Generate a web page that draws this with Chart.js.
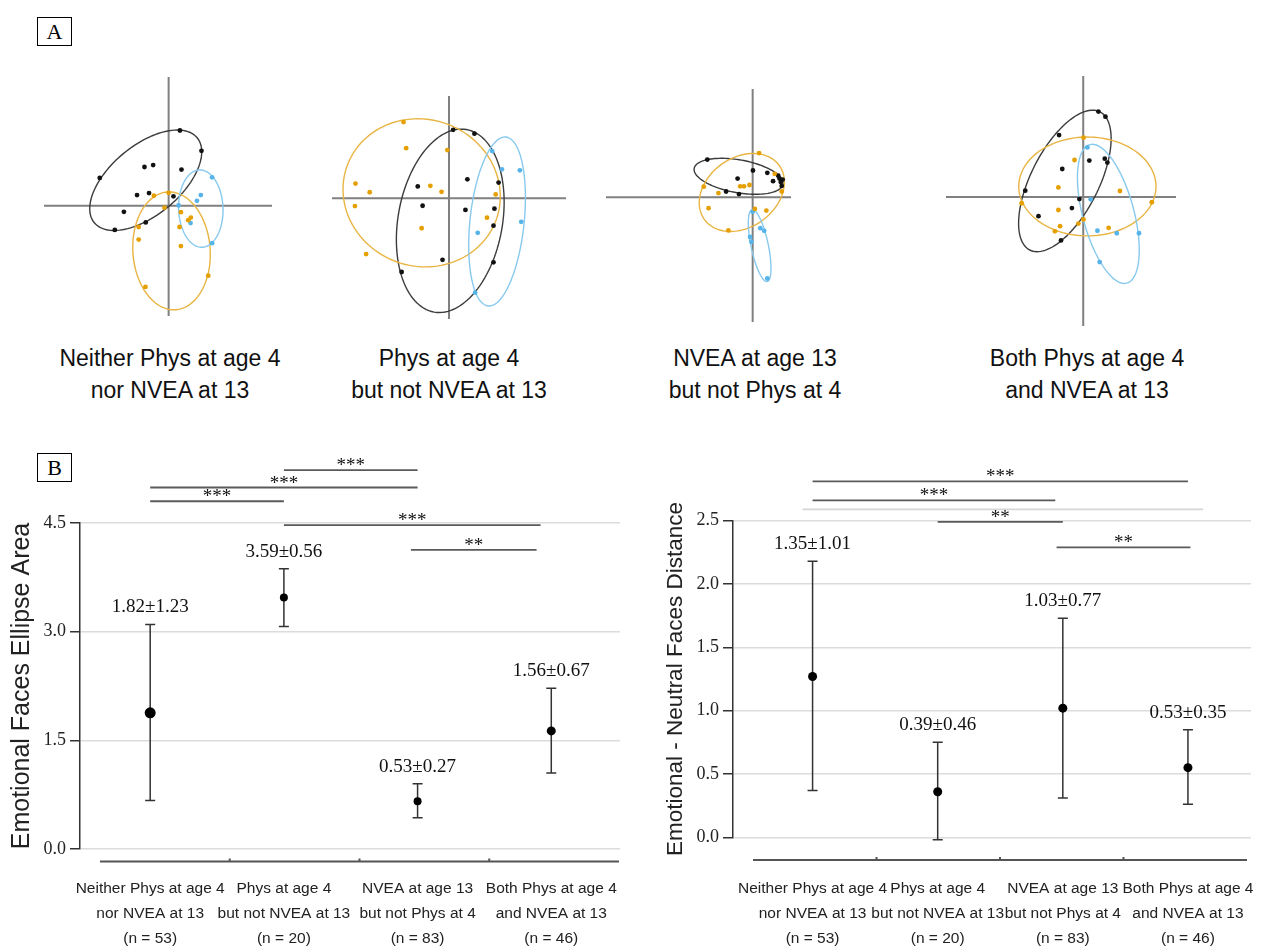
<!DOCTYPE html>
<html>
<head>
<meta charset="utf-8">
<script src="https://cdn.jsdelivr.net/npm/chart.js@4.4.1/dist/chart.umd.min.js"></script>
<style>
body{margin:0;background:#fff;width:1273px;height:951px;position:relative;overflow:hidden;font-family:"Liberation Sans",Arial,sans-serif}
.box{position:absolute;border:1px solid #000;font:22px "Liberation Serif",serif;text-align:center;line-height:27px;width:33px;height:27px;color:#000}
.lab{position:absolute;font-size:23px;line-height:32px;text-align:center;width:300px;color:#111}
canvas{position:absolute}
</style>
</head>
<body>
<div class="box" style="left:37px;top:17px">A</div>
<div class="box" style="left:37px;top:453px">B</div>
<script>
// panel A: scatter points (units = reference pixels, origin at the cross)
var p1Black = [[11.7,77.7],[34,56.7],[-71.3,28.7],[-25,40],[-16,42],[13.3,37.3],[-32.7,11],[-20.3,13],[5,9.7],[-46.3,-6.3],[-23.7,-17.3],[-55.7,-25]];
var p1Orange = [[0,13.3],[-15.3,10.3],[-4.3,-2],[12.7,-6.7],[23,-12.3],[20.3,-15],[-31,-22],[11.3,-22],[-31,-35],[12.7,-41.7],[41,-72.3],[-24,-84]];
var p1Blue = [[45,29.3],[33.3,11],[29.3,5],[10.3,0.3],[22.7,-18],[45,-38.7]];
var p1Ellipses = [[-23.7,26.3,69,36,39.5],[3,-46.7,61,40,94],[33.3,-3,40,23,92]];

var p2Black = [[4.3,71],[26.3,67],[19,19.7],[-32.3,12.3],[51.3,16.3],[-27.3,-7.7],[17,-12],[47,-10.7],[46,-28.3],[-6.7,-63.7],[46,-66.3],[-49,-76.3]];
var p2Orange = [[-47,79],[-44.3,52],[-1.7,50],[-96.7,15.3],[-82,6.3],[-19.3,13],[-7.7,6.7],[-97.3,-8],[48.3,4],[39.3,-20],[-28.3,-31],[-85.7,-57.7]];
var p2Blue = [[44.7,49],[54.7,30],[73.3,29],[74.7,-24.3],[29.7,-35.7],[27,-97.7]];
var p2Ellipses = [[1.3,-23.3,96,54,80],[-28.3,5.7,82,76,-20],[49.7,-24,88,28,84]];

var p3Black = [[-47.3,39],[0.3,27.7],[15.3,25.3],[-15.7,19.3],[26.7,22.3],[21.3,16.7],[28,19.3],[31.3,18.3],[29.3,15.7],[30.3,11.7],[-27.7,6],[-14.3,3.3]];
var p3Orange = [[6.7,45.7],[23,24.3],[-13,11.3],[-9,11.3],[-3.3,12.7],[-51,11],[-35.7,4.3],[30.3,6],[-46,-11.3],[2.3,-12],[14.3,-13.7],[-25.3,-34.3]];
var p3Blue = [[0,-15],[8,-32],[12,-34.7],[-2.7,-41],[-1.3,-46],[15.3,-84]];
var p3Ellipses = [[-14.7,21.7,47,17,-10],[-11.3,5,48,36,35],[7.3,-50,38,9,102]];

var p4Black = [[15.7,88.3],[23,83],[-25,64],[6.3,37.7],[22.3,39.7],[25,35.7],[-21.7,29],[-60,6.7],[-4,-2],[-11.7,-11.3],[-46.3,-19.7],[-23,-44.7]];
var p4Orange = [[0.3,61.3],[-9,38.3],[-25.7,10],[38,6.3],[-63.7,-6.3],[71,-5.3],[-25.7,-13.3],[0.3,-23],[-5,-27.3],[-24,-30],[-29.3,-35.3],[26.3,-31.7]];
var p4Blue = [[4.3,51.3],[7.7,-2.3],[14.7,-34.7],[34.7,-37.3],[57.7,-37.3],[17,-67]];
var p4Ellipses = [[-19,16.7,80,35,63],[4.3,11,71,51,0],[26,-17.3,74,26.5,105]];

var panelTitles = [['Neither Phys at age 4','nor NVEA at 13'],['Phys at age 4','but not NVEA at 13'],['NVEA at age 13','but not Phys at 4'],['Both Phys at age 4','and NVEA at 13']];

// panel B
var groupLabels = [['Neither Phys at age 4','nor NVEA at 13','(n = 53)'],['Phys at age 4','but not NVEA at 13','(n = 20)'],['NVEA at age 13','but not Phys at 4','(n = 83)'],['Both Phys at age 4','and NVEA at 13','(n = 46)']];
var areaMean = [1.88,3.47,0.66,1.63];
var areaLow = [0.67,3.07,0.43,1.05];
var areaHigh = [3.10,3.87,0.90,2.22];
var areaText = ['1.82\u00b11.23','3.59\u00b10.56','0.53\u00b10.27','1.56\u00b10.67'];
var areaSig = [[1,2,5.23,'***'],[0,2,4.99,'***'],[0,1,4.80,'***'],[1,2.92,4.47,'***'],[1.95,2.89,4.13,'**']];
var areaTicks = [0,1.5,3,4.5];

var distMean = [1.27,0.36,1.02,0.55];
var distLow = [0.37,-0.02,0.31,0.26];
var distHigh = [2.18,0.75,1.73,0.85];
var distText = ['1.35\u00b11.01','0.39\u00b10.46','1.03\u00b10.77','0.53\u00b10.35'];
var distSig = [[0,3,2.81,'***'],[0,1.94,2.66,'***'],[-0.08,3.12,2.59,''],[1,2,2.49,'**'],[1.95,3.02,2.29,'**']];
var distTicks = [0,0.5,1,1.5,2,2.5];

var ORANGE = '#E69F00', BLUE = '#56B4E9', BLACK = '#111111';
var ellColors = ['#3c3c3c','#E8B442','#88C9EE'];

function addCanvas(left, top, w, h) {
  var c = document.createElement('canvas');
  c.width = w; c.height = h;
  c.style.left = left + 'px'; c.style.top = top + 'px';
  c.style.width = w + 'px'; c.style.height = h + 'px';
  document.body.appendChild(c);
  return c;
}

function toXY(arr) { return arr.map(function(p){ return {x:p[0], y:p[1]}; }); }

function scatterPanel(box, xr, yr, black, orange, blue, ells, title, cx) {
  var cv = addCanvas(box[0], box[1], box[2], box[3]);
  var crossPlugin = {
    id: 'cross',
    beforeDatasetsDraw: function(chart) {
      var ctx = chart.ctx, a = chart.chartArea, x = chart.scales.x, y = chart.scales.y;
      ctx.save();
      ctx.strokeStyle = '#808080'; ctx.lineWidth = 2;
      var x0 = x.getPixelForValue(0), y0 = y.getPixelForValue(0);
      ctx.beginPath();
      ctx.moveTo(a.left, y0); ctx.lineTo(a.right, y0);
      ctx.moveTo(x0, a.top); ctx.lineTo(x0, a.bottom);
      ctx.stroke();
      ells.forEach(function(e, k) {
        var t0 = e[4] * Math.PI / 180;
        ctx.strokeStyle = ellColors[k]; ctx.lineWidth = 1.4;
        ctx.beginPath();
        for (var i = 0; i <= 120; i++) {
          var t = i / 120 * 2 * Math.PI;
          var u = e[2] * Math.cos(t), v = e[3] * Math.sin(t);
          var px = x.getPixelForValue(e[0] + u * Math.cos(t0) - v * Math.sin(t0));
          var py = y.getPixelForValue(e[1] + u * Math.sin(t0) + v * Math.cos(t0));
          if (i) ctx.lineTo(px, py); else ctx.moveTo(px, py);
        }
        ctx.closePath(); ctx.stroke();
      });
      ctx.restore();
    }
  };
  new Chart(cv, {
    type: 'scatter',
    data: {
      datasets: [
        {data: toXY(orange), backgroundColor: ORANGE, borderWidth: 0, pointRadius: 2.4, clip: false},
        {data: toXY(blue), backgroundColor: BLUE, borderWidth: 0, pointRadius: 2.4, clip: false},
        {data: toXY(black), backgroundColor: BLACK, borderWidth: 0, pointRadius: 2.4, clip: false}
      ]
    },
    options: {
      responsive: false, animation: false, events: [],
      layout: {padding: 0},
      plugins: {legend: {display: false}, tooltip: {enabled: false}},
      scales: {
        x: {type: 'linear', display: false, min: xr[0], max: xr[1]},
        y: {type: 'linear', display: false, min: yr[0], max: yr[1]}
      }
    },
    plugins: [crossPlugin]
  });
  var d = document.createElement('div');
  d.className = 'lab';
  d.style.left = (cx - 150) + 'px'; d.style.top = '342px';
  d.innerHTML = title.join('<br>');
  document.body.appendChild(d);
}

scatterPanel([40,73,236,247], [-129,107], [-114,133], p1Black, p1Orange, p1Blue, p1Ellipses, panelTitles[0], 170);
scatterPanel([328,92,242,231], [-121,121], [-125,106], p2Black, p2Orange, p2Blue, p2Ellipses, panelTitles[1], 449);
scatterPanel([602,85,193,241], [-153,40], [-129,112], p3Black, p3Orange, p3Blue, p3Ellipses, panelTitles[2], 755);
scatterPanel([942,72,238,258], [-142,96], [-133,125], p4Black, p4Orange, p4Blue, p4Ellipses, panelTitles[3], 1087);

function meanPanel(o) {
  var cv = addCanvas(o.left, 440, o.width, 511);
  var deco = {
    id: 'deco',
    beforeDatasetsDraw: function(chart) {
      var ctx = chart.ctx, x = chart.scales.x, y = chart.scales.y;
      ctx.save();
      ctx.strokeStyle = '#333'; ctx.lineWidth = 1.5;
      o.mean.forEach(function(m, i) {
        var px = x.getPixelForValue(i), y1 = y.getPixelForValue(o.low[i]), y2 = y.getPixelForValue(o.high[i]);
        ctx.beginPath();
        ctx.moveTo(px, y1); ctx.lineTo(px, y2);
        ctx.moveTo(px - 5, y1); ctx.lineTo(px + 5, y1);
        ctx.moveTo(px - 5, y2); ctx.lineTo(px + 5, y2);
        ctx.stroke();
      });
      ctx.restore();
    },
    afterDraw: function(chart) {
      var ctx = chart.ctx, a = chart.chartArea, x = chart.scales.x, y = chart.scales.y;
      ctx.save();
      // separate category axis line below the plot
      var ay = a.bottom + o.axisGap, l = a.left + 20, r = a.right - o.axisEnd;
      ctx.strokeStyle = '#555'; ctx.lineWidth = 2;
      ctx.beginPath(); ctx.moveTo(l, ay); ctx.lineTo(r, ay);
      for (var k = 1; k < 4; k++) { var tx = l + (r - l) * k / 4; ctx.moveTo(tx, ay); ctx.lineTo(tx, ay - 3); }
      ctx.stroke();
      // value labels
      ctx.fillStyle = '#111'; ctx.font = '19px "Liberation Serif", serif';
      ctx.textAlign = 'center'; ctx.textBaseline = 'middle';
      o.text.forEach(function(t, i) {
        ctx.fillText(t, x.getPixelForValue(i), y.getPixelForValue(o.high[i]) - 17);
      });
      // significance brackets
      ctx.font = '19px "Liberation Serif", serif'; ctx.textBaseline = 'alphabetic';
      o.sig.forEach(function(s) {
        var x1 = x.getPixelForValue(s[0]), x2 = x.getPixelForValue(s[1]), py = y.getPixelForValue(s[2]);
        ctx.strokeStyle = s[3] ? '#5a5a5a' : '#d6d6d6'; ctx.lineWidth = 1.8;
        ctx.beginPath(); ctx.moveTo(x1, py); ctx.lineTo(x2, py); ctx.stroke();
        if (s[3]) ctx.fillText(s[3], (x1 + x2) / 2, py + 1);
      });
      ctx.restore();
    }
  };
  new Chart(cv, {
    type: 'scatter',
    data: {
      datasets: [{
        data: o.mean.map(function(m, i){ return {x: i, y: m}; }),
        backgroundColor: '#000', borderWidth: 0, pointRadius: o.radius, clip: false
      }]
    },
    options: {
      responsive: false, animation: false, events: [],
      layout: {padding: {top: o.padTop, right: o.padRight, left: 0, bottom: 0}},
      plugins: {legend: {display: false}, tooltip: {enabled: false}},
      scales: {
        x: {
          type: 'linear', min: o.xr[0], max: o.xr[1],
          afterFit: function(s){ s.height = o.xHeight; s.paddingLeft = 0; s.paddingRight = 0; },
          afterBuildTicks: function(s){ s.ticks = [0,1,2,3].map(function(v){ return {value: v}; }); },
          grid: {display: false, drawTicks: false},
          border: {display: false},
          ticks: {
            autoSkip: false, maxRotation: 0, padding: o.labelPad, color: '#222',
            font: {family: '"Liberation Sans", Arial, sans-serif', size: 15.5, lineHeight: 1.62},
            callback: function(v){ return groupLabels[v]; }
          }
        },
        y: {
          type: 'linear', min: o.yTicks[0], max: o.yTicks[o.yTicks.length - 1],
          afterFit: function(s){ s.width = o.yWidth; s.paddingTop = 0; s.paddingBottom = 0; },
          afterBuildTicks: function(s){ s.ticks = o.yTicks.map(function(v){ return {value: v}; }); },
          grid: {color: '#dcdcdc', lineWidth: 1.5, tickColor: '#333', tickLength: 10, tickWidth: 1.5},
          border: {color: '#333', width: 1.5},
          ticks: {
            padding: 4, color: '#222',
            font: {family: '"Liberation Serif", serif', size: 18},
            callback: function(v){ return v.toFixed(1); }
          },
          title: {
            display: true, text: o.yTitle, color: '#222',
            font: {family: '"Liberation Sans", Arial, sans-serif', size: o.titleSize},
            padding: {top: o.titlePad, bottom: 0}
          }
        }
      }
    },
    plugins: [deco]
  });
}

meanPanel({
  left: 0, width: 630, padTop: 83, padRight: 10, xHeight: 102, yWidth: 80, labelPad: 27, titlePad: 7, titleSize: 25,
  xr: [-0.525, 3.514], yTicks: areaTicks, mean: areaMean, low: areaLow, high: areaHigh,
  text: areaText, sig: areaSig, radius: [5.5,4,4,4.5], axisGap: 12.5, axisEnd: 1,
  yTitle: 'Emotional Faces Ellipse Area'
});
meanPanel({
  left: 640, width: 633, padTop: 80.7, padRight: 22, xHeight: 113.7, yWidth: 93, labelPad: 39, titlePad: 22, titleSize: 22.5,
  xr: [-0.636, 3.504], yTicks: distTicks, mean: distMean, low: distLow, high: distHigh,
  text: distText, sig: distSig, radius: [4.5,4.5,4.5,4.5], axisGap: 22.7, axisEnd: 4,
  yTitle: 'Emotional - Neutral Faces Distance'
});
</script>
</body>
</html>
